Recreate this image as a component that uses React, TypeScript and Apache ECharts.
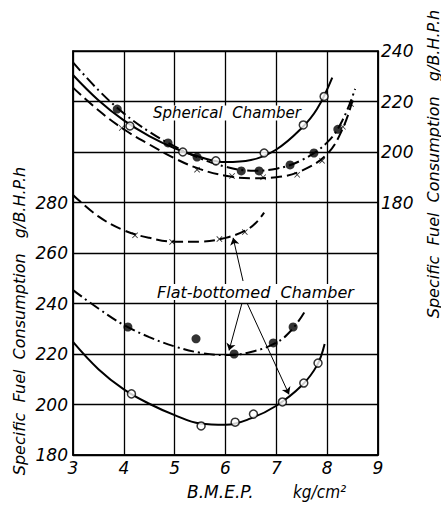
import React, { useEffect, useRef } from "react";
import * as echarts from "echarts";

// ---- Axis ticks ----
const xMin = 3;
const xMax = 9;
const leftMin = 180;
const leftMax = 340;
const leftLastLabel = 280;
const rightMin = 80;
const rightMax = 240;
const rightFirstLabel = 180;

// ---- Spherical Chamber (right axis) ----
const sphSolidCurve: [number, number][] = [
  [3.0, 230.5], [3.5, 220.5], [4.0, 212.5], [4.5, 206.3], [5.0, 201.5], [5.5, 198.0],
  [6.0, 196.0], [6.5, 196.8], [7.0, 201.0], [7.5, 209.5], [7.8, 217.0], [8.1, 229.5],
];
const sphSolidPts: [number, number][] = [
  [4.12, 210.3], [5.16, 200.0], [5.81, 196.5], [6.76, 199.6], [7.53, 210.7], [7.94, 222.0],
];

const sphDashDotCurve: [number, number][] = [
  [3.0, 235.5], [3.5, 224.5], [4.0, 215.3], [4.5, 208.0], [5.0, 202.2], [5.5, 197.5],
  [6.0, 194.2], [6.5, 192.6], [7.0, 193.4], [7.5, 196.8], [8.0, 203.8], [8.3, 212.5], [8.55, 225.0],
];
const sphDashDotPts: [number, number][] = [
  [3.87, 217.0], [4.87, 203.6], [5.44, 198.0], [6.31, 192.5], [6.66, 192.5], [7.27, 194.9],
  [7.74, 199.6], [8.21, 209.0],
];

const sphDashedCurve: [number, number][] = [
  [3.0, 225.5], [3.5, 216.5], [4.0, 209.0], [4.5, 203.0], [5.0, 197.5], [5.5, 193.2],
  [6.0, 190.6], [6.5, 189.6], [7.0, 190.0], [7.5, 192.6], [8.0, 199.2], [8.3, 209.0], [8.5, 220.5],
];
const sphDashedPts: [number, number][] = [
  [3.96, 209.5], [5.44, 193.0], [6.13, 190.5], [6.74, 190.0], [7.41, 191.0], [7.9, 196.5],
  [8.31, 210.0], [8.47, 219.0],
];

// ---- Flat-bottomed Chamber (left axis) ----
const flatDashedCurve: [number, number][] = [
  [3.0, 283.0], [3.5, 274.5], [4.0, 269.0], [4.5, 266.0], [5.0, 264.5], [5.5, 264.5],
  [6.0, 266.0], [6.4, 269.0], [6.6, 272.0], [6.76, 276.0],
];
const flatDashedPts: [number, number][] = [
  [4.22, 267.0], [4.95, 264.4], [5.88, 265.5], [6.38, 268.3],
];

const flatDashDotCurve: [number, number][] = [
  [3.0, 245.3], [3.5, 238.0], [4.0, 231.5], [4.5, 226.7], [5.0, 223.0], [5.5, 220.5],
  [6.0, 219.6], [6.5, 220.8], [7.0, 224.5], [7.3, 229.5], [7.55, 236.5],
];
const flatDashDotPts: [number, number][] = [
  [4.08, 230.7], [5.42, 226.0], [6.17, 220.0], [6.94, 224.4], [7.33, 230.7],
];

const flatSolidCurve: [number, number][] = [
  [3.0, 224.8], [3.5, 214.0], [4.0, 206.0], [4.5, 200.3], [5.0, 195.8], [5.5, 192.5],
  [6.0, 192.0], [6.5, 194.5], [7.0, 199.5], [7.5, 207.5], [7.8, 215.5], [7.95, 224.0],
];
const flatSolidPts: [number, number][] = [
  [4.15, 204.2], [5.52, 191.5], [6.19, 193.0], [6.55, 196.2], [7.12, 201.0], [7.54, 208.5],
  [7.82, 216.4],
];

// annotation arrows (left-axis data coords): [from, to]
const arrows: [[number, number], [number, number]][] = [
  [[6.345, 248.9], [6.15, 266.0]],
  [[6.325, 240.2], [6.07, 221.4]],
  [[6.423, 240.2], [7.25, 204.0]],
];

const FONT = "DejaVu Sans, sans-serif";
const FONT_C = "DejaVu Sans Condensed, DejaVu Sans, sans-serif";
const CROSS = "path://M0,1L1,0L5,4L9,0L10,1L6,5L10,9L9,10L5,6L1,10L0,9L4,5Z";
const DASH = [11, 5];
const DASHDOT = [11, 4, 2, 4];

function curve(name: string, data: [number, number][], yAxisIndex: number, type: any, extra: any = {}) {
  return {
    name,
    type: "line",
    data,
    yAxisIndex,
    smooth: 0.4,
    showSymbol: false,
    symbol: "none",
    lineStyle: { color: "#000", width: 2, type },
    z: 3,
    ...extra,
  };
}

function markers(name: string, data: [number, number][], yAxisIndex: number, kind: "open" | "filled" | "cross") {
  const base: any = { name, type: "scatter", data, yAxisIndex, z: 5 };
  if (kind === "open") {
    base.symbol = "circle";
    base.symbolSize = 8;
    base.itemStyle = { color: "#fff", borderColor: "#000", borderWidth: 1.5 };
  } else if (kind === "filled") {
    base.symbol = "circle";
    base.symbolSize = 9;
    base.itemStyle = { color: "#000" };
  } else {
    base.symbol = CROSS;
    base.symbolSize = 6;
    base.itemStyle = { color: "#000" };
  }
  return base;
}

export default function App() {
  const ref = useRef<HTMLDivElement>(null);
  useEffect(() => {
    if (!ref.current) return;
    const chart = echarts.init(ref.current, undefined, { renderer: "svg" });
    const labelStyle = { color: "#000", fontSize: 17, fontStyle: "italic", fontFamily: FONT };
    const lineBlack = { color: "#000", width: 1.5 };
    const titleText = "Specific  Fuel  Consumption   g/B.H.P.h";
    chart.setOption({
      animation: false,
      backgroundColor: "#fff",
      grid: { left: 73, right: 63, top: 51, bottom: 53, show: true, borderColor: "#000", borderWidth: 1.5 },
      xAxis: {
        type: "value",
        min: xMin,
        max: xMax,
        interval: 1,
        axisLine: { show: true, lineStyle: lineBlack },
        axisTick: { show: false },
        axisLabel: { ...labelStyle, margin: 4 },
        splitLine: { show: true, lineStyle: { color: "#000", width: 1.3 } },
      },
      yAxis: [
        {
          type: "value",
          position: "left",
          min: leftMin,
          max: leftMax,
          interval: 20,
          axisLine: { show: true, lineStyle: lineBlack },
          axisTick: { show: false },
          axisLabel: { ...labelStyle, margin: 5, formatter: (v: number) => (v <= leftLastLabel ? String(v) : "") },
          splitLine: { show: true, lineStyle: { color: "#000", width: 1.3 } },
        },
        {
          type: "value",
          position: "right",
          min: rightMin,
          max: rightMax,
          interval: 20,
          axisLine: { show: true, lineStyle: lineBlack },
          axisTick: { show: false },
          axisLabel: { ...labelStyle, margin: 3, formatter: (v: number) => (v >= rightFirstLabel ? String(v) : "") },
          splitLine: { show: false },
        },
      ],
      graphic: [
        {
          type: "text",
          x: 19,
          y: 321,
          rotation: Math.PI / 2,
          style: { text: titleText, fill: "#000", font: `italic 16px ${FONT}`, align: "center", verticalAlign: "middle" },
        },
        {
          type: "text",
          x: 433,
          y: 164,
          rotation: Math.PI / 2,
          style: { text: titleText, fill: "#000", font: `italic 16px ${FONT}`, align: "center", verticalAlign: "middle" },
        },
        {
          type: "text",
          x: 187,
          y: 492,
          style: { text: "B.M.E.P.", fill: "#000", font: `italic 17px ${FONT}`, align: "left", verticalAlign: "middle" },
        },
        {
          type: "text",
          x: 293,
          y: 492,
          style: { text: "kg/cm²", fill: "#000", font: `italic 17px ${FONT_C}`, align: "left", verticalAlign: "middle" },
        },
        {
          type: "text",
          x: 153,
          y: 113,
          z: 10,
          style: { text: "Spherical  Chamber", fill: "#000", font: `italic 15px ${FONT}`, align: "left", verticalAlign: "middle", backgroundColor: "#fff" },
        },
        {
          type: "text",
          x: 157,
          y: 292,
          z: 10,
          style: { text: "Flat-bottomed  Chamber", fill: "#000", font: `italic 16px ${FONT}`, align: "left", verticalAlign: "middle", backgroundColor: "#fff" },
        },
      ],
      series: [
        curve("sphSolid", sphSolidCurve, 1, "solid"),
        curve("sphDashDot", sphDashDotCurve, 1, DASHDOT),
        curve("sphDashed", sphDashedCurve, 1, DASH),
        curve("flatDashed", flatDashedCurve, 0, DASH, {
          markLine: {
            silent: true,
            symbol: ["none", "arrow"],
            symbolSize: 7,
            label: { show: false },
            lineStyle: { color: "#000", width: 1, type: "solid" },
            data: arrows.map(([a, b]) => [{ coord: a }, { coord: b }]),
          },
        }),
        curve("flatDashDot", flatDashDotCurve, 0, DASHDOT),
        curve("flatSolid", flatSolidCurve, 0, "solid"),
        markers("sphSolidPts", sphSolidPts, 1, "open"),
        markers("sphDashDotPts", sphDashDotPts, 1, "filled"),
        markers("sphDashedPts", sphDashedPts, 1, "cross"),
        markers("flatDashedPts", flatDashedPts, 0, "cross"),
        markers("flatDashDotPts", flatDashDotPts, 0, "filled"),
        markers("flatSolidPts", flatSolidPts, 0, "open"),
      ],
    });
    return () => chart.dispose();
  }, []);
  return <div ref={ref} style={{ position: "fixed", left: 0, top: 0, width: 441, height: 508 }} />;
}
